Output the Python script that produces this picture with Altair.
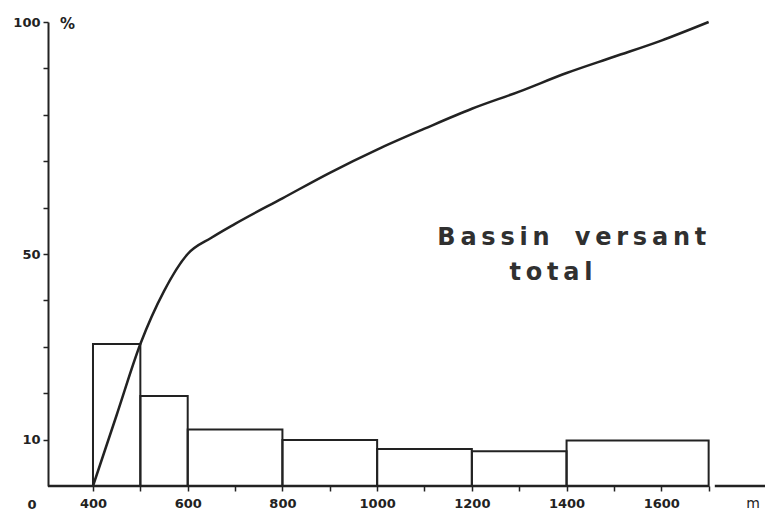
import altair as alt
import pandas as pd

# Elevation classes (m) and share of the basin area in each class (%)
class_low = [400, 500, 600, 800, 1000, 1200, 1400]
class_high = [500, 600, 800, 1000, 1200, 1400, 1700]
class_pct = [30.6, 19.4, 12.2, 9.9, 8.0, 7.5, 9.8]

# Hypsometric curve: cumulative area (%) below each elevation (m)
curve_elev = [400, 450, 500, 550, 600, 650, 700, 800, 900, 1000, 1100, 1200, 1300, 1400, 1500, 1600, 1700]
curve_pct = [0, 15.3, 30.6, 42.0, 50.0, 53.5, 56.5, 62.0, 67.5, 72.5, 77.0, 81.3, 85.0, 89.0, 92.5, 96.0, 100]

# Tick values
x_ticks = list(range(400, 1800, 100))
x_labels = [400, 600, 800, 1000, 1200, 1400, 1600]
y_ticks = list(range(10, 110, 10))
y_labels = [10, 50, 100]

# Broken horizontal axis line
axis_from = [305, 1713]
axis_to = [1700, 1819]

X_DOMAIN = [305, 1819]
Y_DOMAIN = [0, 100]
FONT = "DejaVu Sans"
INK = "#222222"

bars = pd.DataFrame({"lo": class_low, "hi": class_high, "pct": class_pct})
curve = pd.DataFrame({"elev": curve_elev, "pct": curve_pct})
axis_df = pd.DataFrame({"a": axis_from, "b": axis_to, "y": [0, 0]})

x_scale = alt.Scale(domain=X_DOMAIN, nice=False, zero=False)
y_scale = alt.Scale(domain=Y_DOMAIN, nice=False)

x_label_test = " || ".join(f"datum.value == {v}" for v in x_labels)
y_label_test = " || ".join(f"datum.value == {v}" for v in y_labels)

x_axis = alt.Axis(
    values=x_ticks, format="d", labelExpr=f"({x_label_test}) ? datum.label : ''",
    domain=False, grid=False, tickSize=5, tickColor=INK, tickWidth=1.5,
    labelFont=FONT, labelFontWeight="bold", labelFontSize=13, labelColor=INK,
    labelPadding=6, title=None, labelFlush=False, labelOverlap=False,
)
y_axis = alt.Axis(
    values=y_ticks, format="d", labelExpr=f"({y_label_test}) ? datum.label : ''",
    domain=True, domainColor=INK, domainWidth=2, grid=False,
    tickSize=5, tickColor=INK, tickWidth=1.5,
    labelFont=FONT, labelFontWeight="bold", labelFontSize=13, labelColor=INK,
    labelPadding=3, title=None, labelFlush=False, labelOverlap=False,
)

hist = alt.Chart(bars).mark_rect(
    fill="white", fillOpacity=0, stroke=INK, strokeWidth=2
).encode(
    x=alt.X("lo:Q", scale=x_scale, axis=x_axis),
    x2="hi:Q",
    y=alt.Y("pct:Q", scale=y_scale, axis=y_axis),
    y2=alt.datum(0),
)

line = alt.Chart(curve).mark_line(
    color=INK, strokeWidth=2.5, interpolate="monotone"
).encode(
    x=alt.X("elev:Q", scale=x_scale),
    y=alt.Y("pct:Q", scale=y_scale),
)

x_line = alt.Chart(axis_df).mark_rule(color=INK, strokeWidth=2.5).encode(
    x=alt.X("a:Q", scale=x_scale),
    x2="b:Q",
    y=alt.Y("y:Q", scale=y_scale),
)


def spaced(words):
    # letter-spaced words, joined by non-collapsing spaces
    return "\u00a0\u00a0\u00a0".join("\u2009".join(w) for w in words.split())


# Annotations placed in data units
notes = pd.DataFrame({
    "x": [1411, 1367],
    "y": [53.4, 46.0],
    "text": [spaced("Bassin versant"), spaced("total")],
})
title_text = alt.Chart(notes).mark_text(
    font=FONT, fontSize=24, fontWeight="bold", color="#303030", align="center", baseline="middle"
).encode(
    x=alt.X("x:Q", scale=x_scale),
    y=alt.Y("y:Q", scale=y_scale),
    text="text:N",
)

pct_unit = alt.Chart(pd.DataFrame({"x": [X_DOMAIN[0]], "y": [100], "t": ["%"]})).mark_text(
    font=FONT, fontSize=15, fontWeight="bold", color=INK, align="left", baseline="middle", dx=12, dy=2
).encode(x=alt.X("x:Q", scale=x_scale), y=alt.Y("y:Q", scale=y_scale), text="t:N")

m_unit = alt.Chart(pd.DataFrame({"x": [X_DOMAIN[1]], "y": [0], "t": ["m"]})).mark_text(
    font=FONT, fontSize=14, color=INK, align="right", baseline="middle", dx=-5, dy=18
).encode(x=alt.X("x:Q", scale=x_scale), y=alt.Y("y:Q", scale=y_scale), text="t:N")

origin = alt.Chart(pd.DataFrame({"x": [X_DOMAIN[0]], "y": [0], "t": ["0"]})).mark_text(
    font=FONT, fontSize=13, fontWeight="bold", color=INK, align="center", baseline="middle", dx=-16, dy=19
).encode(x=alt.X("x:Q", scale=x_scale), y=alt.Y("y:Q", scale=y_scale), text="t:N")

chart = alt.layer(hist, line, x_line, title_text, pct_unit, m_unit, origin).properties(
    width=717, height=464,
    autosize="none",
    padding={"left": 48, "top": 22, "right": 1, "bottom": 29},
    background="white",
).configure_view(stroke=None)

chart.save("out.html", embed_options={"renderer": "svg", "actions": False})
